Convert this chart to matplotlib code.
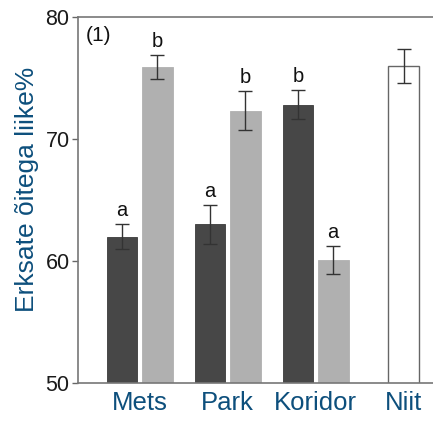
import numpy as np
import matplotlib
matplotlib.use("Agg")
import matplotlib.pyplot as plt

plt.rcParams["font.family"] = ["Liberation Sans", "DejaVu Sans"]

# ---- data ----
groups = ["Mets", "Park", "Koridor"]
dark_vals = [62.0, 63.0, 72.8]
dark_err = [1.0, 1.6, 1.2]
dark_letters = ["a", "a", "b"]
light_vals = [75.9, 72.3, 60.1]
light_err = [1.0, 1.6, 1.15]
light_letters = ["b", "b", "a"]
niit_val = 76.0
niit_err = 1.4
xticklabels = ["Mets", "Park", "Koridor", "Niit"]
yticks = [50, 60, 70, 80]

blue = "#0d4f7c"
width = 0.35
off = 0.2

fig = plt.figure(figsize=(4.33, 4.21), dpi=100)
ax = fig.add_axes([0.180, 0.090, 0.820, 0.870])

x = np.arange(len(groups))
ekw = dict(ecolor="#333333", elinewidth=1.0, capsize=5, capthick=1.0)
ax.bar(x - off, dark_vals, width, yerr=dark_err, color="#474747",
       edgecolor="#3a3a3a", linewidth=0.6, error_kw=ekw, zorder=2)
ax.bar(x + off, light_vals, width, yerr=light_err, color="#b0b0b0",
       edgecolor="#b0b0b0", linewidth=0.6, error_kw=ekw, zorder=2)
ax.bar([3], [niit_val], width, yerr=[niit_err], color="white",
       edgecolor="#666666", linewidth=1.0, error_kw=ekw, zorder=2)

for xi, v, e, t in zip(x - off, dark_vals, dark_err, dark_letters):
    ax.annotate(t, (xi, v + e), xytext=(0, 3), textcoords="offset points",
                ha="center", va="bottom", fontsize=14.5, color="#111111")
for xi, v, e, t in zip(x + off, light_vals, light_err, light_letters):
    ax.annotate(t, (xi, v + e), xytext=(0, 3), textcoords="offset points",
                ha="center", va="bottom", fontsize=14.5, color="#111111")

ax.text(0.022, 0.975, "(1)", transform=ax.transAxes, ha="left", va="top",
        fontsize=15, color="#111111")

ax.set_ylim(50, 80)
ax.set_xlim(-0.70, 3.335)
ax.set_yticks(yticks)
ax.set_xticks(np.arange(4))
ax.set_xticklabels(xticklabels, fontsize=18.5, color=blue)
ax.tick_params(axis="y", labelsize=15.5, colors="#1a1a1a", length=4,
               width=1, color="#666666", pad=2)
ax.tick_params(axis="x", length=0, pad=6)
ax.set_ylabel("Erksate õitega liike%", fontsize=19, color=blue)
ax.yaxis.set_label_coords(-0.11, 0.53)

for s in ["left", "top", "bottom"]:
    ax.spines[s].set_color("#777777")
    ax.spines[s].set_linewidth(1.2)
ax.spines["right"].set_visible(False)

fig.savefig("out.png", dpi=100)
